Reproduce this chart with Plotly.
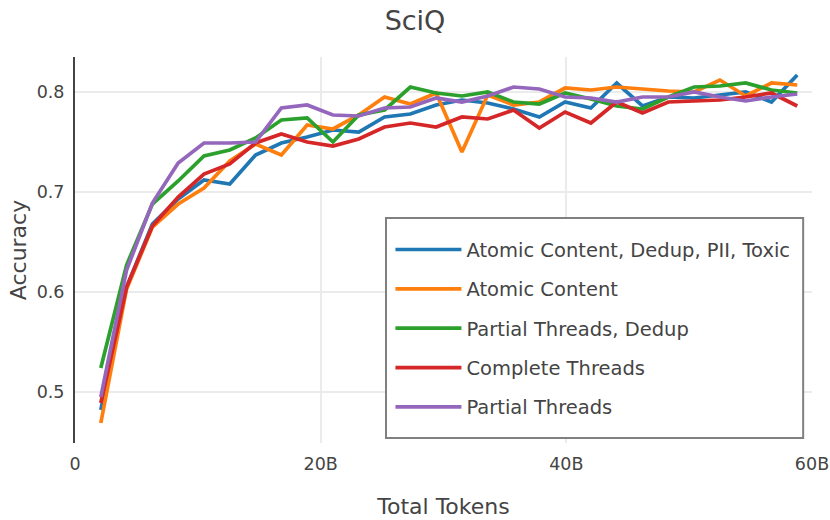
import plotly.graph_objects as go

# ---- data ----
tokens_b = [2.1 * i for i in range(1, 29)]  # training tokens, billions

series_names = [
    "Atomic Content, Dedup, PII, Toxic",
    "Atomic Content",
    "Partial Threads, Dedup",
    "Complete Threads",
    "Partial Threads",
]

acc_atomic_dedup_pii_toxic = [0.482, 0.605, 0.668, 0.693, 0.712, 0.708, 0.737, 0.749, 0.755, 0.762,
                              0.760, 0.775, 0.778, 0.787, 0.792, 0.789, 0.783, 0.775, 0.790, 0.784,
                              0.809, 0.786, 0.795, 0.794, 0.797, 0.800, 0.790, 0.817]
acc_atomic = [0.469, 0.603, 0.665, 0.688, 0.704, 0.731, 0.748, 0.737, 0.767, 0.763,
              0.777, 0.795, 0.788, 0.799, 0.740, 0.797, 0.787, 0.790, 0.804, 0.802,
              0.805, 0.803, 0.801, 0.800, 0.812, 0.796, 0.809, 0.807]
acc_partial_dedup = [0.524, 0.627, 0.688, 0.711, 0.736, 0.742, 0.754, 0.772, 0.774, 0.750,
                     0.777, 0.782, 0.805, 0.799, 0.796, 0.800, 0.790, 0.788, 0.799, 0.793,
                     0.786, 0.783, 0.795, 0.805, 0.806, 0.809, 0.802, 0.799]
acc_complete = [0.489, 0.605, 0.666, 0.695, 0.718, 0.728, 0.749, 0.758, 0.750, 0.746,
                0.753, 0.765, 0.769, 0.765, 0.775, 0.773, 0.782, 0.764, 0.780, 0.769,
                0.790, 0.779, 0.790, 0.791, 0.792, 0.795, 0.799, 0.786]
acc_partial = [0.495, 0.622, 0.689, 0.729, 0.749, 0.749, 0.750, 0.784, 0.787, 0.777,
               0.776, 0.784, 0.785, 0.794, 0.790, 0.796, 0.805, 0.803, 0.795, 0.794,
               0.790, 0.795, 0.795, 0.800, 0.795, 0.791, 0.795, 0.798]

series_values = [acc_atomic_dedup_pii_toxic, acc_atomic, acc_partial_dedup, acc_complete, acc_partial]
colors = ["#1f77b4", "#ff7f0e", "#2ca02c", "#d62728", "#9467bd"]

x_tick_vals = [0, 20, 40, 60]
x_tick_text = ["0", "20B", "40B", "60B"]

# ---- figure ----
FONT = "DejaVu Sans"
TXT = "#444444"

fig = go.Figure()
for i, (name, vals, col) in enumerate(zip(series_names, series_values, colors)):
    fig.add_trace(go.Scatter(
        x=tokens_b, y=vals, mode="lines", name=name,
        line=dict(color=col, width=3.7),
        legendgroup=f"g{i}",
    ))

# legend frame (white box with grey border), legend entries drawn inside it
fig.add_shape(type="rect", xref="paper", yref="paper",
              x0=0.422, x1=0.988, y0=0.013, y1=0.583,
              fillcolor="white", line=dict(color="#808080", width=2), layer="above")

fig.update_layout(
    width=830, height=520,
    margin=dict(l=75, r=18, t=57, b=77),
    paper_bgcolor="white", plot_bgcolor="white",
    font=dict(family=FONT, color=TXT, size=17.5),
    title=dict(text="SciQ", x=0.5, xanchor="center", y=0.96, yanchor="middle",
               font=dict(size=27, color=TXT, family=FONT)),
    showlegend=True,
    legend=dict(
        x=0.428, y=0.551, xanchor="left", yanchor="top",
        bgcolor="rgba(0,0,0,0)", borderwidth=0,
        font=dict(size=19.5, color=TXT, family=FONT),
        traceorder="grouped", tracegroupgap=11, itemwidth=66,
    ),
)
fig.update_xaxes(
    range=[0, 60], tickvals=x_tick_vals, ticktext=x_tick_text,
    showgrid=True, gridcolor="#ebebeb", gridwidth=2,
    zeroline=False, showline=False, ticks="",
    ticklabelstandoff=8, automargin=False,
    title=dict(text="Total Tokens", font=dict(size=22, color=TXT, family=FONT), standoff=26),
)
fig.update_yaxes(
    range=[0.449, 0.835], dtick=0.1, tickformat=".1f",
    showgrid=True, gridcolor="#ebebeb", gridwidth=2,
    zeroline=False, showline=True, linecolor="#444444", linewidth=2, ticks="",
    ticklabelstandoff=5, automargin=True,
    title=dict(text="Accuracy", font=dict(size=22, color=TXT, family=FONT), standoff=4),
)

# remove the browser's default page margin so the 830x520 figure fills the window exactly
fig.write_html("out.html", config={"displayModeBar": False},
               post_script="document.body.style.margin='0';")
